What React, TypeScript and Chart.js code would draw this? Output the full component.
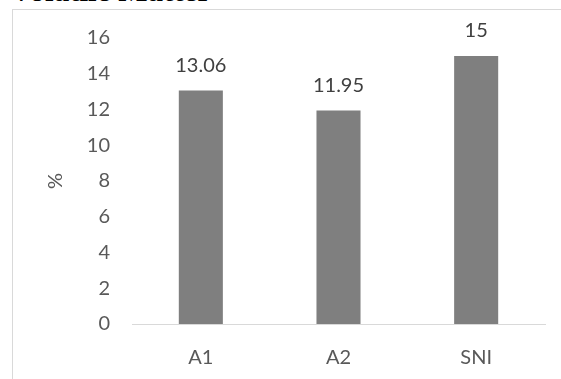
import React, { useEffect, useRef } from "react";
import { Chart, registerables } from "chart.js";

Chart.register(...registerables);

const categories = ["A1", "A2", "SNI"];
const values = [13.06, 11.95, 15];
const yTicks = [0, 2, 4, 6, 8, 10, 12, 14, 16];
const chartTitle = "Volatile Matter";
const yAxisTitle = "%";

const W = 561;
const H = 379;
const FONT = "Lato, 'Open Sans', sans-serif";

const valueLabels = {
  id: "valueLabels",
  afterDatasetsDraw(chart: any) {
    const ctx = chart.ctx;
    const meta = chart.getDatasetMeta(0);
    ctx.save();
    ctx.font = `20px ${FONT}`;
    ctx.fillStyle = "#404040";
    ctx.textAlign = "center";
    ctx.textBaseline = "middle";
    meta.data.forEach((bar: any, i: number) => {
      ctx.fillText(String(values[i]), bar.x, bar.y - 25);
    });
    ctx.restore();
  },
};

export default function App() {
  const ref = useRef<HTMLCanvasElement | null>(null);
  useEffect(() => {
    if (!ref.current) return;
    const chart = new Chart(ref.current, {
      type: "bar",
      data: {
        labels: categories,
        datasets: [
          {
            data: values,
            backgroundColor: "#7f7f7f",
            borderWidth: 0,
            barPercentage: 0.32,
            categoryPercentage: 1,
          },
        ],
      },
      options: {
        responsive: false,
        animation: false,
        devicePixelRatio: 1,
        layout: { padding: { top: 38, right: 16, left: 0, bottom: 0 } },
        plugins: {
          legend: { display: false },
          tooltip: { enabled: false },
          title: { display: false },
        },
        scales: {
          x: {
            grid: { display: false, drawTicks: false },
            border: { display: true, color: "#d9d9d9", width: 1 },
            ticks: {
              color: "#595959",
              font: { family: FONT, size: 20 },
              padding: 22,
              maxRotation: 0,
            },
            afterFit(scale: any) {
              scale.height = 55;
            },
          },
          y: {
            min: 0,
            max: 16,
            afterBuildTicks(scale: any) {
              scale.ticks = yTicks.map((v) => ({ value: v }));
            },
            grid: { display: false, drawTicks: false },
            border: { display: false },
            ticks: {
              color: "#595959",
              font: { family: FONT, size: 20 },
              padding: 22,
            },
            title: {
              display: true,
              text: yAxisTitle,
              color: "#595959",
              font: { family: FONT, size: 20 },
              padding: { top: 44, bottom: 0 },
            },
            afterFit(scale: any) {
              scale.width = 132;
            },
          },
        },
      },
      plugins: [valueLabels],
    });
    return () => chart.destroy();
  }, []);

  return (
    <div
      style={{
        position: "fixed",
        left: 0,
        top: 0,
        width: W,
        height: H,
        overflow: "hidden",
        background: "#ffffff",
      }}
    >
      <div
        style={{
          position: "absolute",
          left: 12,
          top: 9,
          width: 700,
          height: 500,
          border: "1px solid #d9d9d9",
          boxSizing: "border-box",
        }}
      />
      <div
        style={{
          position: "absolute",
          left: 10,
          top: -25,
          fontFamily: "'Liberation Serif', 'Times New Roman', serif",
          fontWeight: "bold",
          fontSize: 31,
          lineHeight: "31px",
          whiteSpace: "nowrap",
          color: "#000000",
        }}
      >
        {chartTitle}
      </div>
      <canvas
        ref={ref}
        width={W}
        height={H}
        style={{ position: "absolute", left: 0, top: 0, width: W, height: H }}
      />
    </div>
  );
}
